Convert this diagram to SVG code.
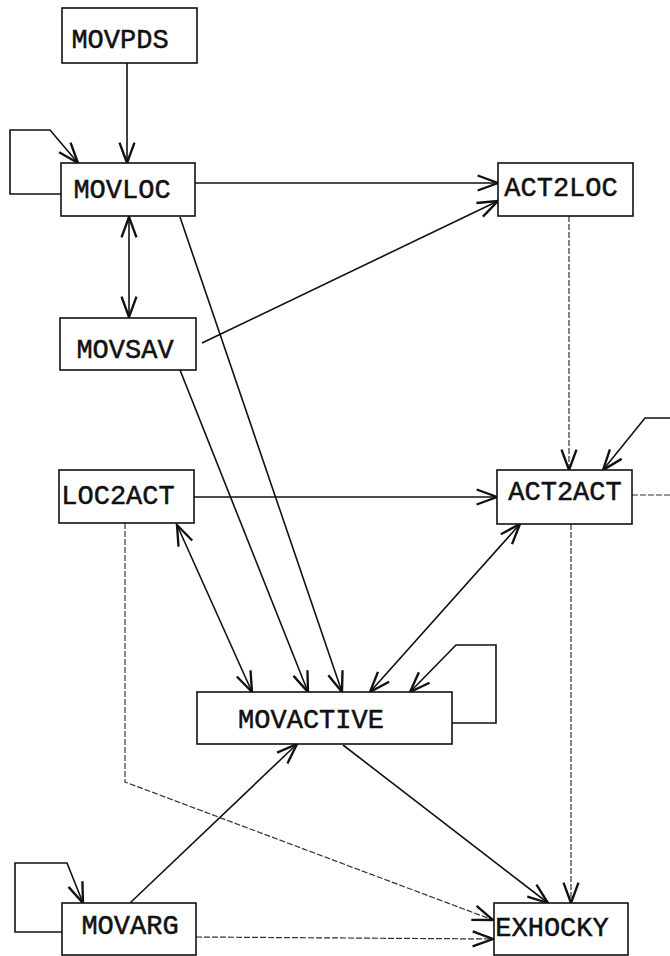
<svg xmlns="http://www.w3.org/2000/svg" width="670" height="956" viewBox="0 0 670 956">
<style>
.box{fill:#fff;stroke:#111;stroke-width:1.6}
.lbl{font-family:"Liberation Mono","Courier New",monospace;font-size:27px;fill:#111;stroke:#111;stroke-width:0.5;text-anchor:middle}
.c{fill:none;stroke:#111;stroke-width:1.6}
.d{fill:none;stroke:#333;stroke-width:1.2;stroke-dasharray:6 2}
.a{marker-end:url(#ah)}
.b{marker-start:url(#ah);marker-end:url(#ah)}
</style>
<defs>
<marker id="ah" markerUnits="userSpaceOnUse" markerWidth="30" markerHeight="30" viewBox="-24 -12 28 24" refX="0" refY="0" orient="auto-start-reverse">
<path d="M-19,-7 L0,0 L-19,7" fill="none" stroke="#111" stroke-width="2.2"/>
</marker>
</defs>
<rect width="670" height="956" fill="#fff"/>
<g id="connectors">
<path class="c a" d="M127,63 L127,163"/>
<path class="c a" d="M61,194 L10,194 L10,130 L50,130 L78,163"/>
<path class="c a" d="M195,183 L498,183"/>
<path class="c a" d="M202,343 L498,201"/>
<path class="c b" d="M129,217 L129,317"/>
<path class="c a" d="M180,217 L342,692"/>
<path class="c a" d="M180,370 L308,692"/>
<path class="d a" d="M569,216 L569,470"/>
<path class="c a" d="M194,497 L497,497"/>
<path class="d" d="M632,495 L670,495"/>
<path class="c a" d="M670,418 L645,418 L603,470"/>
<path class="c b" d="M177,525 L252,692"/>
<path class="c b" d="M520,524 L370,692"/>
<path class="c a" d="M452,723 L496,723 L496,645 L456,645 L410,692"/>
<path class="d a" d="M125,523 L125,782 L493,920"/>
<path class="c a" d="M343,745 L548,903"/>
<path class="d a" d="M571,524 L571,903"/>
<path class="c a" d="M62,932 L15,932 L15,863 L67,863 L83,903"/>
<path class="c a" d="M130,903 L297,744"/>
<path class="d a" d="M196,937 L493,939"/>
</g>
<g id="MOVPDS"><rect class="box" x="62" y="8" width="135" height="55"/><text class="lbl" x="120" y="48">MOVPDS</text></g>
<g id="MOVLOC"><rect class="box" x="61" y="163" width="134" height="53"/><text class="lbl" x="122" y="198">MOVLOC</text></g>
<g id="ACT2LOC"><rect class="box" x="498" y="163" width="135" height="53"/><text class="lbl" x="561" y="196">ACT2LOC</text></g>
<g id="MOVSAV"><rect class="box" x="60" y="318" width="136" height="52"/><text class="lbl" x="125" y="358">MOVSAV</text></g>
<g id="LOC2ACT"><rect class="box" x="59" y="470" width="135" height="53"/><text class="lbl" x="118" y="504">LOC2ACT</text></g>
<g id="ACT2ACT"><rect class="box" x="497" y="470" width="135" height="54"/><text class="lbl" x="565" y="500">ACT2ACT</text></g>
<g id="MOVACTIVE"><rect class="box" x="197" y="692" width="255" height="52"/><text class="lbl" x="311" y="728">MOVACTIVE</text></g>
<g id="MOVARG"><rect class="box" x="62" y="903" width="134" height="52"/><text class="lbl" x="130" y="934">MOVARG</text></g>
<g id="EXHOCKY"><rect class="box" x="494" y="903" width="134" height="52"/><text class="lbl" x="552" y="936">EXHOCKY</text></g>
</svg>
